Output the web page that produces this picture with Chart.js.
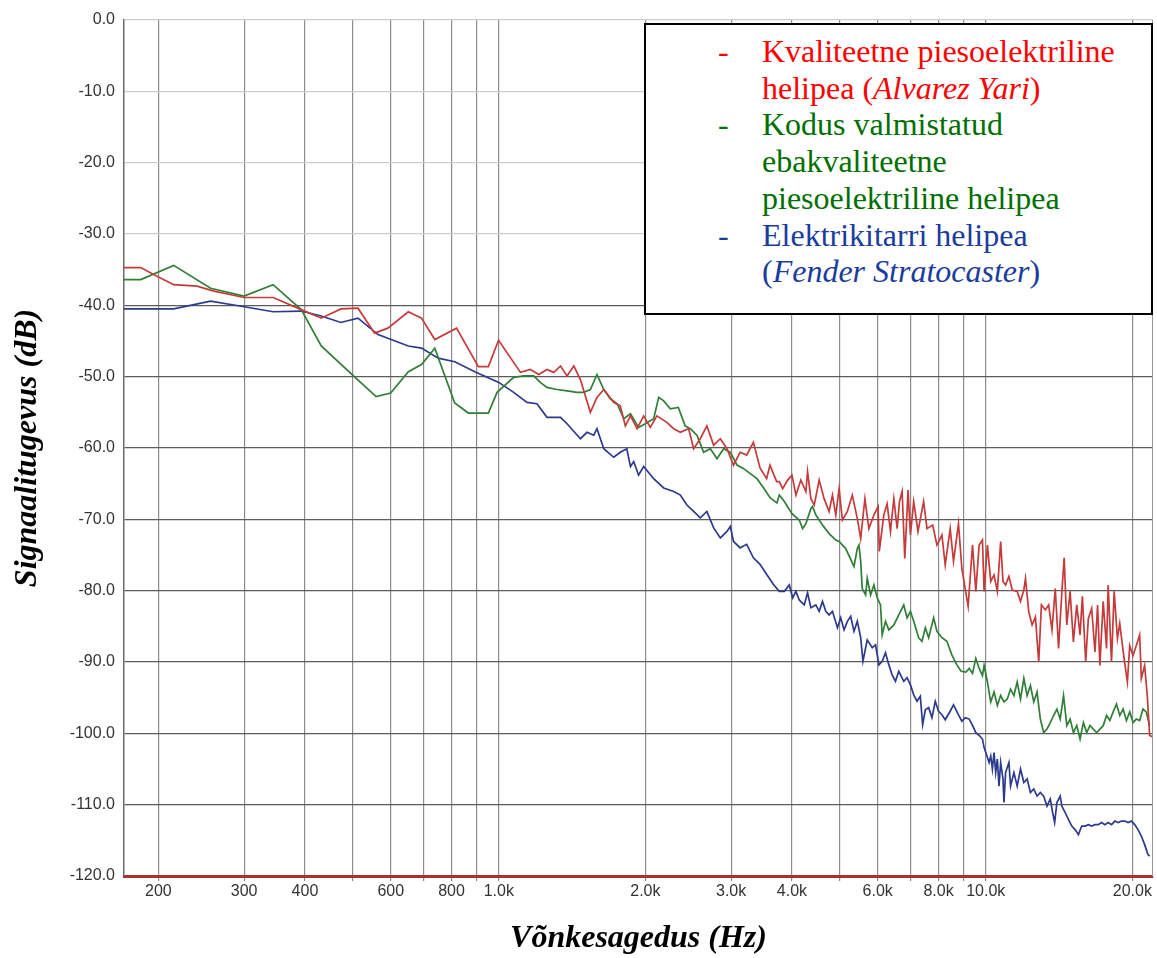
<!DOCTYPE html>
<html>
<head>
<meta charset="utf-8">
<script src="https://cdn.jsdelivr.net/npm/chart.js@4/dist/chart.umd.min.js"></script>
<style>
  body { margin: 0; background: #fff; }
  #wrap { position: relative; width: 1157px; height: 958px; }
  #legend {
    position: absolute; left: 644px; top: 23px; width: 505px; height: 280px;
    border: 2px solid #000; background: #fff;
    font-family: "Liberation Serif", "Times New Roman", serif;
    font-size: 32px; line-height: 36.7px;
    padding-top: 8px; box-sizing: content-box;
  }
  #legend .item { position: relative; padding-left: 116px; white-space: nowrap; }
  #legend .dash { position: absolute; left: 72px; top: 0; }
</style>
</head>
<body>
<div id="wrap">
  <canvas id="chart" width="1157" height="958"></canvas>
  <div id="legend">
    <div class="item" style="color:#ff0000"><span class="dash">-</span>Kvaliteetne piesoelektriline<br>helipea (<i>Alvarez Yari</i>)</div>
    <div class="item" style="color:#006f00"><span class="dash">-</span>Kodus valmistatud<br>ebakvaliteetne<br>piesoelektriline helipea</div>
    <div class="item" style="color:#1a3c9e"><span class="dash">-</span>Elektrikitarri helipea<br>(<i>Fender Stratocaster</i>)</div>
  </div>
</div>
<script>
// frequency response, Hz / dB
const redFreq = [170, 184, 196, 215, 240, 260, 300, 344, 393, 432, 474, 514, 556, 592, 652, 694, 739, 819, 908, 952, 999,
  1108, 1161, 1208, 1256, 1297, 1339, 1381, 1426, 1471, 1542, 1591, 1643, 1722, 1776, 1819, 1864, 1923, 1984,
  2047, 2112, 2214, 2286, 2360, 2454, 2513, 2593, 2675, 2762, 2851, 2941, 3034, 3130, 3229, 3333, 3439, 3548, 3605, 3721,
  3768, 3828, 3919, 4000, 4076, 4171, 4272, 4306, 4374, 4444, 4549, 4656, 4768, 4844, 4921, 4998, 5077, 5198, 5321,
  5448, 5536, 5647, 5755, 5892, 6010, 6045, 6174, 6272, 6373, 6475, 6578, 6650, 6734, 6819, 6926, 7003, 7113, 7258,
  7454, 7574, 7780, 7939, 8128, 8256, 8452, 8586, 8790, 8932, 9200, 9393, 9541, 9692, 9845, 9922, 10078, 10238,
  10399, 10563, 10730, 10848, 10983, 11157, 11333, 11602, 11785, 11972, 12066, 12256, 12450, 12646, 12846, 13009,
  13254, 13463, 13676, 13890, 14110, 14333, 14488, 14668, 14899, 15135, 15374, 15617, 15790, 16040, 16242, 16500,
  16759, 16967, 17153, 17423, 17701, 17838, 18120, 18349, 18638, 18842, 19231, 19535, 19750, 20060, 20378, 20700,
  20865, 21196, 21462, 21700, 22050];
const redDb = [-34.7, -34.7, -35.7, -37.1, -37.3, -38.0, -38.9, -38.9, -40.6, -41.8, -40.5, -40.4, -43.9, -43.2, -40.9, -41.8, -44.8, -43.2, -48.6, -48.6, -44.9,
  -49.4, -49.0, -49.7, -49.0, -49.4, -48.5, -49.9, -48.5, -50.4, -55.0, -52.9, -51.8, -53.6, -54.1, -56.9, -55.5, -57.3, -55.5,
  -57.1, -55.5, -56.4, -57.3, -57.8, -57.3, -60.1, -58.7, -56.9, -59.6, -58.7, -60.1, -62.4, -60.6, -61.0, -59.2, -62.8, -64.3, -62.4, -64.7,
  -64.7, -65.7, -64.5, -63.8, -66.6, -64.5, -66.1, -63.3, -67.1, -68.0, -64.5, -67.1, -68.9, -66.6, -69.4, -65.7, -70.1, -68.9, -66.6,
  -69.9, -72.7, -67.1, -71.3, -69.4, -68.2, -74.5, -69.4, -67.8, -71.7, -67.1, -71.3, -67.5, -66.1, -75.5, -65.9, -72.2, -67.5, -71.7,
  -67.5, -71.3, -70.8, -73.6, -72.2, -76.4, -71.3, -75.9, -70.6, -76.9, -82.2, -73.6, -80.1, -73.6, -72.9, -80.1, -73.6, -78.7,
  -77.8, -80.1, -73.1, -78.7, -79.2, -78.0, -79.9, -80.1, -81.5, -79.9, -78.3, -83.0, -84.8, -83.7, -90.0, -82.0,
  -82.7, -82.0, -85.5, -79.7, -88.1, -80.1, -75.4, -84.8, -80.1, -87.2, -82.0, -86.2, -80.8, -90.0, -83.9, -82.5,
  -88.6, -82.0, -90.5, -81.5, -88.1, -79.2, -90.0, -80.1, -86.7, -84.6, -89.5, -92.8, -87.7, -89.1, -87.7, -86.2,
  -92.3, -90.5, -94.7, -100.3, -100.5];

const greenFreq = [170, 184, 215, 256, 300, 344, 393, 432, 505, 560, 600, 652, 694, 739, 812, 866, 952,
  992, 1073, 1126, 1180, 1217, 1256, 1317, 1381, 1448, 1494, 1542, 1591, 1643, 1695, 1750, 1806, 1864, 1937, 2000,
  2080, 2130, 2181, 2251, 2337, 2414, 2473, 2553, 2634, 2719, 2806, 2896, 2989, 3085, 3183, 3285, 3390, 3499, 3610, 3726,
  3768, 3858, 4000, 4140, 4206, 4272, 4374, 4409, 4478, 4621, 4768, 4921, 4998, 5157, 5363, 5448, 5491, 5536, 5576,
  5666, 5710, 5801, 5892, 5986, 6079, 6128, 6225, 6323, 6475, 6628, 6786, 6894, 7003, 7113, 7282, 7396, 7514, 7634,
  7816, 7939, 8128, 8320, 8519, 8723, 8903, 9105, 9248, 9393, 9541, 9692, 9845, 9922, 10078, 10237, 10399, 10563,
  10729, 10899, 11071, 11245, 11423, 11603, 11786, 11972, 12160, 12352, 12547, 12744, 12945, 13149, 13357, 13567,
  13781, 13999, 14219, 14444, 14671, 14903, 15138, 15377, 15619, 15865, 16116, 16370, 16628, 16890, 17157, 17427,
  17702, 17981, 18265, 18553, 18846, 19143, 19445, 19752, 20063, 20380, 20701, 21028, 21359, 21696];
const greenDb = [-36.4, -36.4, -34.4, -37.6, -38.7, -37.1, -40.6, -45.7, -50.0, -52.8, -52.3, -49.3, -48.3, -46.0, -53.7, -55.1, -55.1,
  -52.2, -50.1, -49.9, -49.9, -50.8, -51.5, -51.8, -52.0, -52.2, -52.2, -51.8, -49.7, -51.8, -53.1, -53.8, -55.9, -55.2, -57.1, -56.6,
  -55.9, -52.9, -53.4, -54.5, -54.3, -56.9, -57.3, -58.2, -60.6, -60.1, -61.5, -60.1, -60.6, -62.4, -62.9, -63.6, -64.3, -65.6, -67.0, -67.7,
  -66.6, -67.5, -69.2, -70.1, -71.3, -70.6, -68.5, -68.2, -69.4, -70.8, -72.0, -72.9, -73.1, -74.1, -76.6, -74.1, -73.6, -75.9, -79.7,
  -80.6, -78.3, -80.6, -79.2, -81.0, -82.0, -86.2, -84.3, -85.5, -84.8, -83.4, -82.0, -83.8, -82.9, -84.3, -86.6, -87.1, -85.2, -86.6,
  -83.8, -85.7, -86.6, -87.1, -89.0, -90.4, -91.3, -91.4, -90.9, -91.6, -89.5, -90.9, -91.9, -90.5, -92.8, -95.6, -94.2, -96.1,
  -94.7, -95.6, -95.2, -93.8, -94.7, -92.8, -95.2, -92.3, -94.7, -93.3, -95.6, -94.2, -98.0, -99.9, -99.4, -98.5,
  -97.5, -96.6, -98.0, -94.7, -98.9, -98.0, -99.9, -98.9, -100.8, -98.5, -99.9, -98.9, -99.4, -99.9, -99.4, -98.9,
  -97.5, -98.2, -97.0, -95.9, -97.5, -96.6, -98.2, -97.0, -98.5, -98.0, -98.2, -96.6, -97.0, -98.9];

const blueFreq = [170, 215, 256, 300, 344, 393, 432, 474, 514, 565, 652, 694, 751, 812, 893,
  1000, 1073, 1143, 1198, 1256, 1339, 1381, 1471, 1518, 1567, 1591, 1643, 1722, 1776, 1832, 1864, 1893, 1937, 1984,
  2080, 2181, 2286, 2360, 2434, 2513, 2593, 2675, 2762, 2851, 2941, 2989, 3034, 3130, 3229, 3333, 3439, 3548, 3661,
  3768, 3858, 3950, 4013, 4076, 4140, 4239, 4306, 4374, 4478, 4549, 4621, 4694, 4768, 4844, 4960, 5036, 5117, 5198,
  5280, 5363, 5448, 5536, 5595, 5710, 5846, 5939, 6033, 6128, 6225, 6323, 6423, 6526, 6628, 6786, 6894, 7003, 7113,
  7224, 7338, 7420, 7514, 7634, 7754, 7877, 8000, 8128, 8256, 8452, 8586, 8790, 8932, 9071, 9248, 9393, 9541, 9692,
  9845, 9922, 10000, 10158, 10238, 10318, 10399, 10481, 10563, 10646, 10730, 10848, 10899, 10983, 11157, 11245, 11423,
  11603, 11786, 11972, 12160, 12352, 12547, 12744, 12945, 13149, 13357, 13567, 13718, 13850, 13999, 14219, 14330,
  14557, 14787, 15020, 15257, 15498, 15742, 15990, 16242, 16499, 16759, 17023, 17292, 17565, 17842, 18124, 18410,
  18700, 18995, 19295, 19600, 19909, 20223, 20542, 20866, 21196, 21530, 21700];
const blueDb = [-40.5, -40.5, -39.4, -40.2, -40.9, -40.8, -41.5, -42.4, -41.8, -44.1, -45.7, -46.0, -47.4, -47.9, -49.3,
  -50.8, -52.2, -53.6, -53.8, -55.7, -55.7, -56.6, -58.7, -57.8, -58.2, -57.3, -60.1, -61.3, -60.6, -60.1, -62.6, -61.9, -63.8, -62.6,
  -64.3, -65.6, -66.1, -66.6, -68.0, -68.9, -69.8, -68.9, -71.2, -72.6, -71.7, -71.0, -73.1, -74.0, -73.5, -75.4, -76.3, -77.7, -79.1,
  -80.1, -80.1, -79.2, -81.0, -80.1, -81.3, -82.0, -80.3, -82.4, -82.0, -82.9, -81.5, -82.9, -83.4, -82.9, -85.2, -83.8, -85.5, -84.3,
  -83.6, -85.7, -84.3, -86.6, -89.9, -86.9, -88.0, -87.6, -90.4, -89.9, -88.7, -90.4, -91.8, -92.7, -91.3, -92.7, -92.2, -93.2, -94.6,
  -95.5, -94.8, -98.8, -96.7, -96.4, -97.8, -95.5, -96.9, -97.4, -98.1, -96.9, -96.0, -97.4, -98.3, -97.8, -98.0, -98.9, -99.9, -100.3,
  -100.8, -102.0, -102.7, -104.1, -103.2, -105.0, -102.7, -105.5, -103.6, -107.4, -104.1, -106.4, -109.7, -105.5, -104.1, -107.4, -105.5,
  -107.4, -105.0, -106.9, -106.4, -108.3, -107.8, -108.8, -108.3, -108.8, -110.2, -109.2, -111.1, -112.5, -109.7, -108.8, -110.2,
  -111.1, -112.1, -113.0, -113.5, -114.2, -113.0, -113.0, -112.8, -113.0, -112.8, -112.8, -112.5, -112.8, -112.5, -112.8, -112.3,
  -112.5, -112.3, -112.3, -112.5, -112.3, -112.8, -113.5, -114.4, -115.6, -117.0, -117.2];

// gridlines on the frequency axis; only some carry a label
const freqTicks = [200, 300, 400, 500, 600, 700, 800, 900, 1000, 2000, 3000, 4000, 5000, 6000, 7000, 8000, 9000, 10000, 20000];
const freqLabels = { 200: "200", 300: "300", 400: "400", 600: "600", 800: "800", 1000: "1.0k", 2000: "2.0k", 3000: "3.0k",
  4000: "4.0k", 6000: "6.0k", 8000: "8.0k", 10000: "10.0k", 20000: "20.0k" };

const points = (fs, ds) => fs.map((f, i) => ({ x: f, y: ds[i] }));

const serif = "'Liberation Serif', 'Times New Roman', serif";
const sans = "'Liberation Sans', Arial, sans-serif";

// right edge of the plot frame
const frame = {
  id: "frame",
  afterDraw(chart) {
    const { ctx, chartArea: a } = chart;
    ctx.save();
    ctx.strokeStyle = "#9a9a9a";
    ctx.lineWidth = 1;
    ctx.beginPath();
    ctx.moveTo(a.right - 0.5, a.top);
    ctx.lineTo(a.right - 0.5, a.bottom);
    ctx.stroke();
    ctx.restore();
  },
};

const config = {
  type: "line",
  data: {
    datasets: [
      { label: "red", data: points(redFreq, redDb), borderColor: "#c63a3a", borderWidth: 1.7 },
      { label: "green", data: points(greenFreq, greenDb), borderColor: "#2f7f35", borderWidth: 1.7 },
      { label: "blue", data: points(blueFreq, blueDb), borderColor: "#2b3a8c", borderWidth: 1.7 },
    ],
  },
  options: {
    responsive: false,
    animation: false,
    layout: { padding: { top: 20, right: 4 } },
    elements: { point: { radius: 0 }, line: { tension: 0 } },
    plugins: { legend: { display: false }, tooltip: { enabled: false } },
    scales: {
      x: {
        type: "logarithmic",
        min: 170,
        max: 22050,
        afterFit: (s) => { s.height = 82; },
        afterBuildTicks: (s) => { s.ticks = freqTicks.map((v) => ({ value: v })); },
        grid: { color: "#8c8c8c", lineWidth: 1.2, drawTicks: true, tickLength: 5 },
        border: { color: "#a83232", width: 3 },
        ticks: {
          autoSkip: false, maxRotation: 0, padding: 1, color: "#333",
          font: { family: sans, size: 16 },
          callback: (v) => freqLabels[v] || "",
        },
        title: {
          display: true, text: "Võnkesagedus (Hz)", color: "#000",
          font: { family: serif, size: 32, style: "italic", weight: "bold" },
          padding: { bottom: 0 },
        },
      },
      y: {
        min: -120,
        max: 0,
        afterFit: (s) => { s.width = 124; },
        grid: {
          color: (c) => (c.tick && c.tick.value > -35 ? "#cdcdcd" : "#5c5c5c"),
          lineWidth: 1.2, drawTicks: false,
        },
        border: { color: "#6a6a6a", width: 1.5 },
        ticks: {
          stepSize: 10, padding: 9, color: "#333",
          font: { family: sans, size: 16 },
          callback: (v) => (v === 0 ? "0.0" : v.toFixed(1)),
        },
        title: {
          display: true, text: "Signaalitugevus (dB)", color: "#000",
          font: { family: serif, size: 32, style: "italic", weight: "bold" },
          padding: { top: 9 },
        },
      },
    },
  },
  plugins: [frame],
};

const chart = new Chart(document.getElementById("chart"), config);
</script>
</body>
</html>
